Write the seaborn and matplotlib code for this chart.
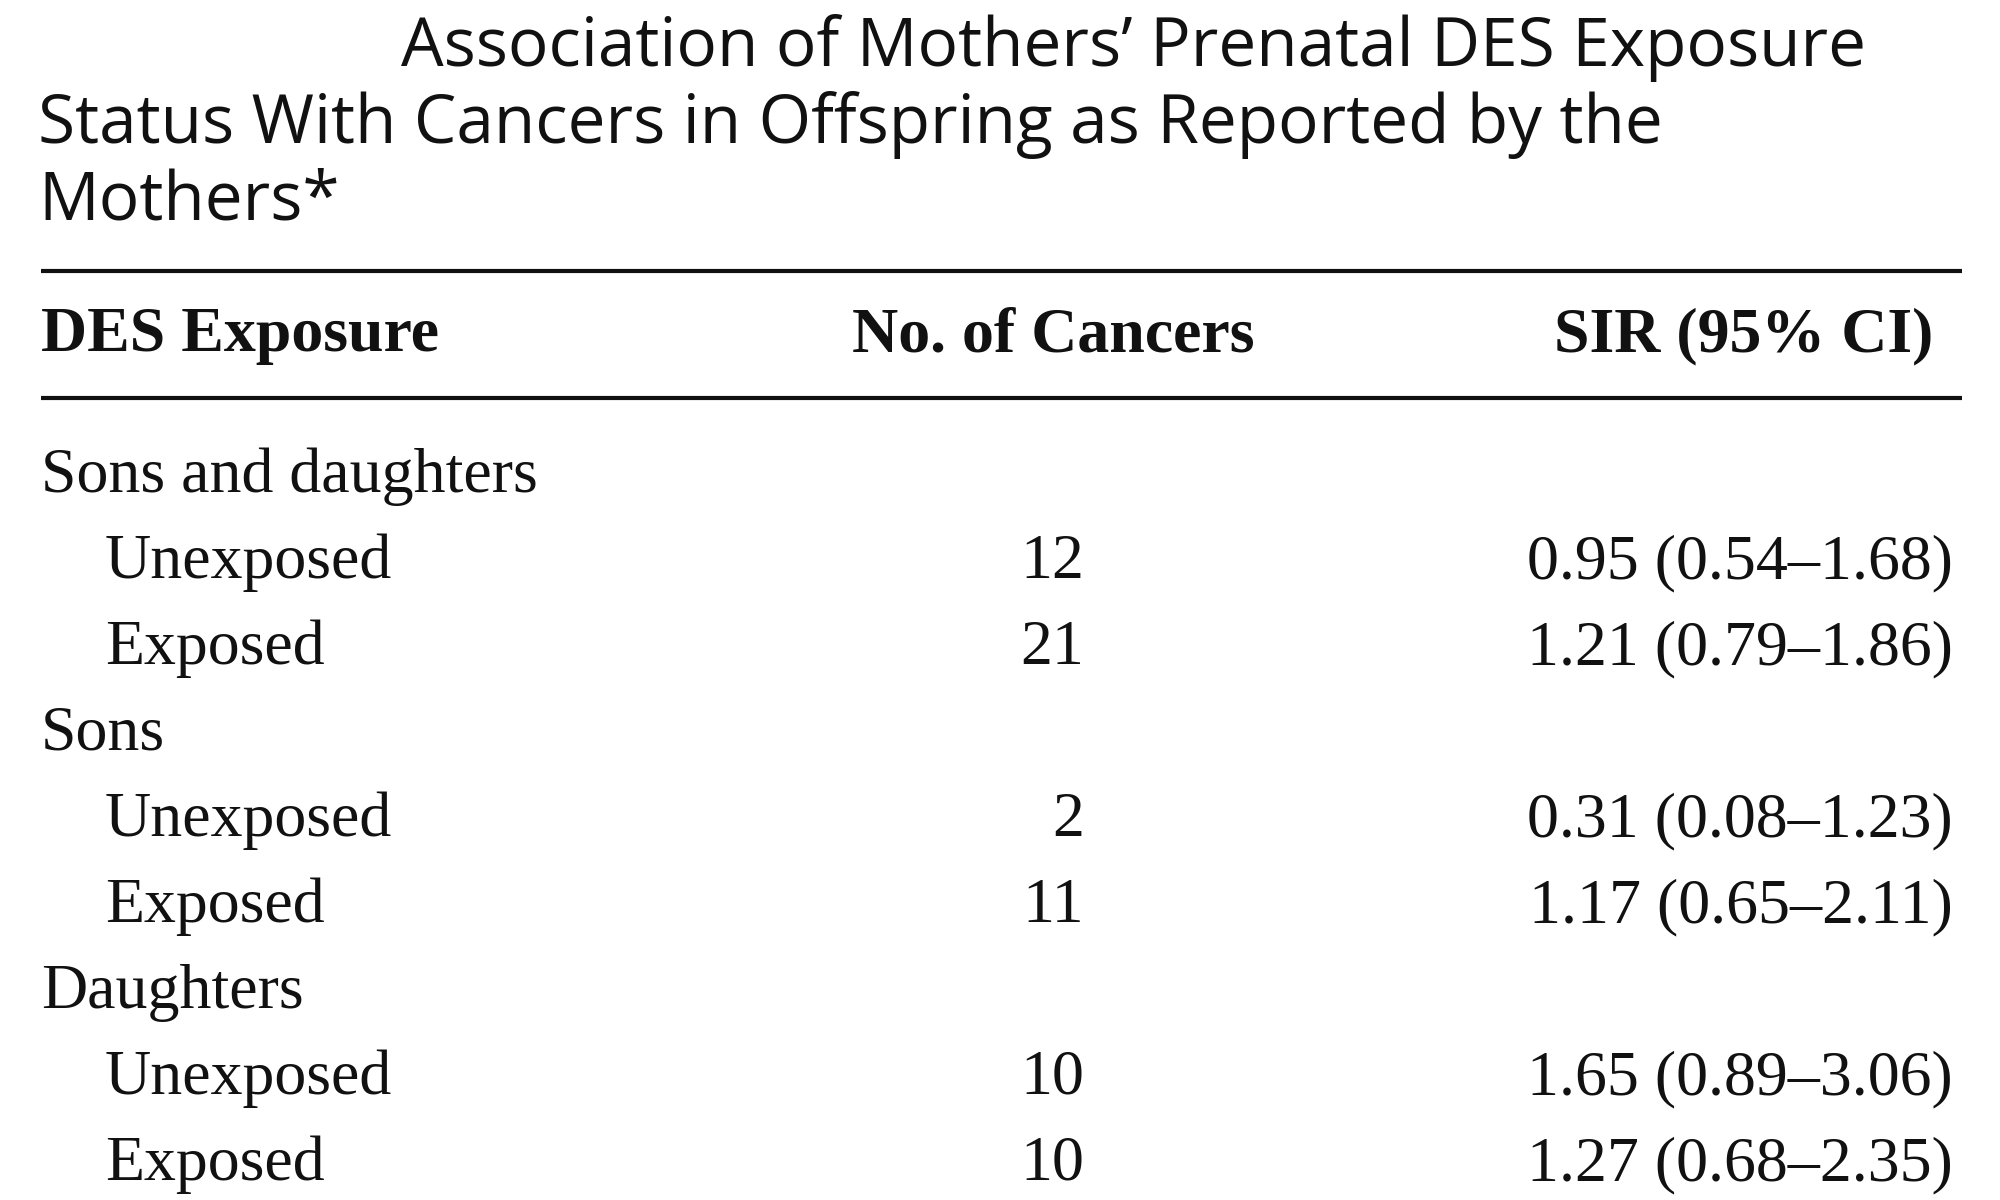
import matplotlib
matplotlib.use("Agg")
import matplotlib.pyplot as plt
import seaborn as sns
import pandas as pd

# ---- data ----
title_lines = ["Association of Mothers\u2019 Prenatal DES Exposure",
               "Status With Cancers in Offspring as Reported by the",
               "Mothers*"]
col_headers = ["DES Exposure", "No. of Cancers", "SIR (95% CI)"]
groups = ["Sons and daughters", "Sons", "Daughters"]
subgroups = ["Unexposed", "Exposed"]
n_cancers = [12, 21, 2, 11, 10, 10]
sir = [0.95, 1.21, 0.31, 1.17, 1.65, 1.27]
ci_low = [0.54, 0.79, 0.08, 0.65, 0.89, 0.68]
ci_high = [1.68, 1.86, 1.23, 2.11, 3.06, 2.35]

rows = []
k = 0
for g in groups:
    rows.append({"label": g, "indent": False, "n": "", "sir": ""})
    for s in subgroups:
        rows.append({"label": s, "indent": True, "n": str(n_cancers[k]),
                     "sir": f"{sir[k]:.2f} ({ci_low[k]:.2f}\u2013{ci_high[k]:.2f})"})
        k += 1
df = pd.DataFrame(rows)

sns.set_theme(style="white")
plt.rcParams['font.family'] = ['Liberation Serif', 'DejaVu Serif']

fig = plt.figure(figsize=(20, 12), dpi=100)
ax = fig.add_axes([0, 0, 1, 1])
ax.set_xlim(0, 2000)
ax.set_ylim(1200, 0)
ax.axis("off")

# layout
x_left, x_indent, x_num, x_sir, x_right = 41, 105, 1084, 1953, 1962
title_x0 = [401, 38, 38]
title_y = [66, 143, 220]
title_fs = 48.6
body_fs = 46

for t, x, y in zip(title_lines, title_x0, title_y):
    ax.text(x, y, t, fontsize=title_fs, family=['Open Sans', 'DejaVu Sans'],
            ha='left', va='baseline', color='#111111')

ax.hlines([271, 398], x_left, x_right, colors='#111111', linewidth=3.0)

hy = 351
ax.text(x_left, hy, col_headers[0], fontsize=body_fs, fontweight='bold',
        ha='left', va='baseline', color='#111111')
ax.text(1053, hy, col_headers[1], fontsize=body_fs, fontweight='bold',
        ha='center', va='baseline', color='#111111')
ax.text(1933, hy, col_headers[2], fontsize=body_fs, fontweight='bold',
        ha='right', va='baseline', color='#111111')

y0, dy = 492, 86
for i, r in df.iterrows():
    y = y0 + dy * i
    ax.text(x_indent if r["indent"] else x_left, y, r["label"], fontsize=body_fs,
            ha='left', va='baseline', color='#111111')
    if r["n"]:
        ax.text(x_num, y, r["n"], fontsize=body_fs, ha='right', va='baseline', color='#111111')
        ax.text(x_sir, y, r["sir"], fontsize=body_fs, ha='right', va='baseline', color='#111111')

fig.savefig("out.png", dpi=100, facecolor='white')
